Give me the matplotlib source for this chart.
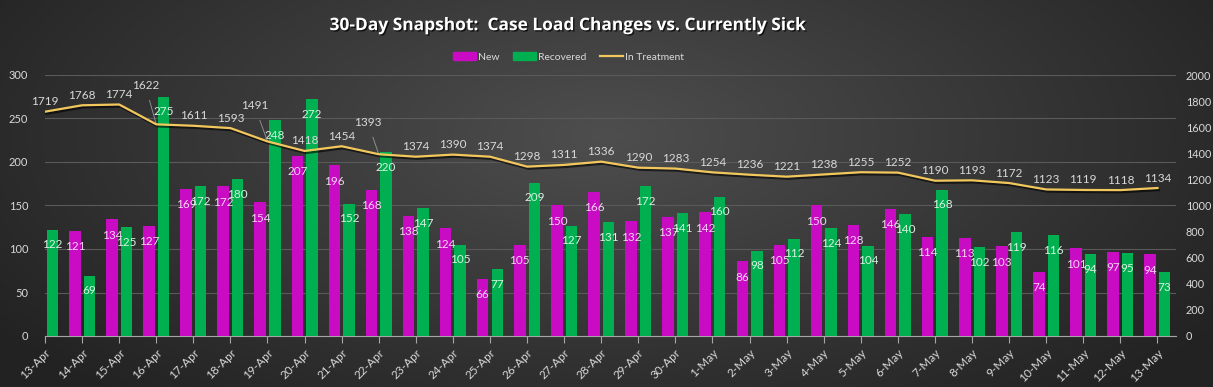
import numpy as np
import matplotlib
matplotlib.use("Agg")
import matplotlib.pyplot as plt
import matplotlib.patheffects as pe
from matplotlib.patches import Patch
from matplotlib.lines import Line2D

plt.rcParams['font.family'] = ['Lato', 'DejaVu Sans']

# data
dates = ['13-Apr', '14-Apr', '15-Apr', '16-Apr', '17-Apr', '18-Apr', '19-Apr',
         '20-Apr', '21-Apr', '22-Apr', '23-Apr', '24-Apr', '25-Apr', '26-Apr',
         '27-Apr', '28-Apr', '29-Apr', '30-Apr', '1-May', '2-May', '3-May',
         '4-May', '5-May', '6-May', '7-May', '8-May', '9-May', '10-May',
         '11-May', '12-May', '13-May']
new_cases = [np.nan, 121, 134, 127, 169, 172, 154, 207, 196, 168, 138, 124, 66,
             105, 150, 166, 132, 137, 142, 86, 105, 150, 128, 146, 114, 113,
             103, 74, 101, 97, 94]
# bar heights as drawn (22-Apr and 26-Apr bars are shorter than their labels)
recovered = [122, 69, 125, 275, 172, 180, 248, 272, 152, 211, 147, 105, 77,
             176, 127, 131, 172, 141, 160, 98, 112, 124, 104, 140, 168, 102,
             119, 116, 94, 95, 73]
# numbers printed on the recovered bars
recovered_labels = [122, 69, 125, 275, 172, 180, 248, 272, 152, 220, 147, 105,
                    77, 209, 127, 131, 172, 141, 160, 98, 112, 124, 104, 140,
                    168, 102, 119, 116, 94, 95, 73]
in_treatment = [1719, 1768, 1774, 1622, 1611, 1593, 1491, 1418, 1454, 1393,
                1374, 1390, 1374, 1298, 1311, 1336, 1290, 1283, 1254, 1236,
                1221, 1238, 1255, 1252, 1190, 1193, 1172, 1123, 1119, 1118,
                1134]

magenta = '#C90BC4'
green = '#00B050'
yellow = '#F2C75C'
txt = '#D9D9D9'

W, H = 1213, 387
fig = plt.figure(figsize=(W / 100, H / 100), dpi=100)

# background gradient
bg = fig.add_axes([0, 0, 1, 1], zorder=-10)
yy, xx = np.mgrid[0:1:200j, 0:1:600j]
r = np.sqrt(((xx - 0.5) / 0.62) ** 2 + ((yy - 0.35) / 0.9) ** 2)
r = np.clip(r, 0, 1)
c0 = np.array([0x4e, 0x4e, 0x4e]) / 255
c1 = np.array([0x22, 0x22, 0x22]) / 255
img = c0[None, None, :] * (1 - r[..., None]) + c1[None, None, :] * r[..., None]
bg.imshow(img, aspect='auto', extent=[0, 1, 0, 1], origin='upper')
bg.axis('off')

ax = fig.add_axes([45 / W, 1 - 336 / H, (1176 - 45) / W, (336 - 75) / H])
ax.patch.set_alpha(0)
ax2 = ax.twinx()

x = np.arange(len(dates))
bw = 0.31
off = 0.196
ax.bar(x - off, new_cases, bw, color=magenta, zorder=3)
ax.bar(x + off, recovered, bw, color=green, zorder=3)

for xi, v in zip(x, new_cases):
    if np.isnan(v):
        continue
    ax.annotate(str(int(v)), (xi - off, v), xytext=(0, -16),
                textcoords='offset pixels', ha='center', va='center',
                fontsize=8.5, color='#F3D3F2', zorder=5)
for xi, v, lab in zip(x, recovered, recovered_labels):
    ax.annotate(str(lab), (xi + off, v), xytext=(0, -15),
                textcoords='offset pixels', ha='center', va='center',
                fontsize=8.5, color='#D6F2DF', zorder=5)

ax.set_xlim(0, 30.5)
ax.set_ylim(0, 300)
ax.set_yticks(range(0, 301, 50))
ax.grid(axis='y', color='#5a5a5a', lw=0.8, zorder=0)
ax.set_axisbelow(True)

ax2.plot(x, in_treatment, color=yellow, lw=1.6, zorder=4,
         path_effects=[pe.SimpleLineShadow(offset=(1, -1.5), shadow_color='black', alpha=0.6),
                       pe.Normal()])
ax2.set_ylim(0, 2000)
ax2.set_yticks(range(0, 2001, 200))

# labels that were pulled away from the line, with leader lines (pixel offsets)
leader = {3: (-11, 39), 6: (-13, 36), 9: (-11, 32)}
for xi, v in zip(x, in_treatment):
    if xi in leader:
        ax2.annotate(str(v), (xi, v), xytext=leader[xi], textcoords='offset pixels',
                     ha='center', va='center', fontsize=8.5, color=txt,
                     arrowprops=dict(arrowstyle='-', color='#9a9a9a', lw=0.6,
                                     shrinkA=5, shrinkB=0))
    else:
        ax2.annotate(str(v), (xi, v), xytext=(0, 10), textcoords='offset pixels',
                     ha='center', va='center', fontsize=8.5, color=txt)

for a in (ax, ax2):
    for s in a.spines.values():
        s.set_visible(False)
ax.spines['bottom'].set_visible(True)
ax.spines['bottom'].set_color('#A6A6A6')
ax.set_xticks(x)
ax.set_xticklabels(dates, rotation=45, ha='right', rotation_mode='anchor')
ax.tick_params(axis='x', colors='#A6A6A6', length=5, width=0.8, labelsize=8.5,
               labelcolor=txt, pad=3)
ax.tick_params(axis='y', length=0, labelsize=8, labelcolor=txt, pad=12)
ax2.tick_params(axis='y', length=0, labelsize=7.8, labelcolor=txt, pad=7)

fig.text(0.468, 0.935, '30-Day Snapshot:  Case Load Changes vs. Currently Sick',
         ha='center', va='center', fontsize=12.5, fontweight='bold', color='white',
         family=['Open Sans', 'DejaVu Sans'],
         path_effects=[pe.withSimplePatchShadow(offset=(1, -1), shadow_rgbFace='black', alpha=0.7)])

handles = [Patch(color=magenta), Patch(color=green), Line2D([], [], color=yellow, lw=1.6)]
fig.legend(handles, ['New', 'Recovered', 'In Treatment'], loc='center',
           bbox_to_anchor=(0.469, 0.853), ncol=3, frameon=False, fontsize=7.5,
           labelcolor=txt, handlelength=2.2, handleheight=0.7, columnspacing=1.3,
           handletextpad=0.2)

fig.savefig('out.png', dpi=100)
